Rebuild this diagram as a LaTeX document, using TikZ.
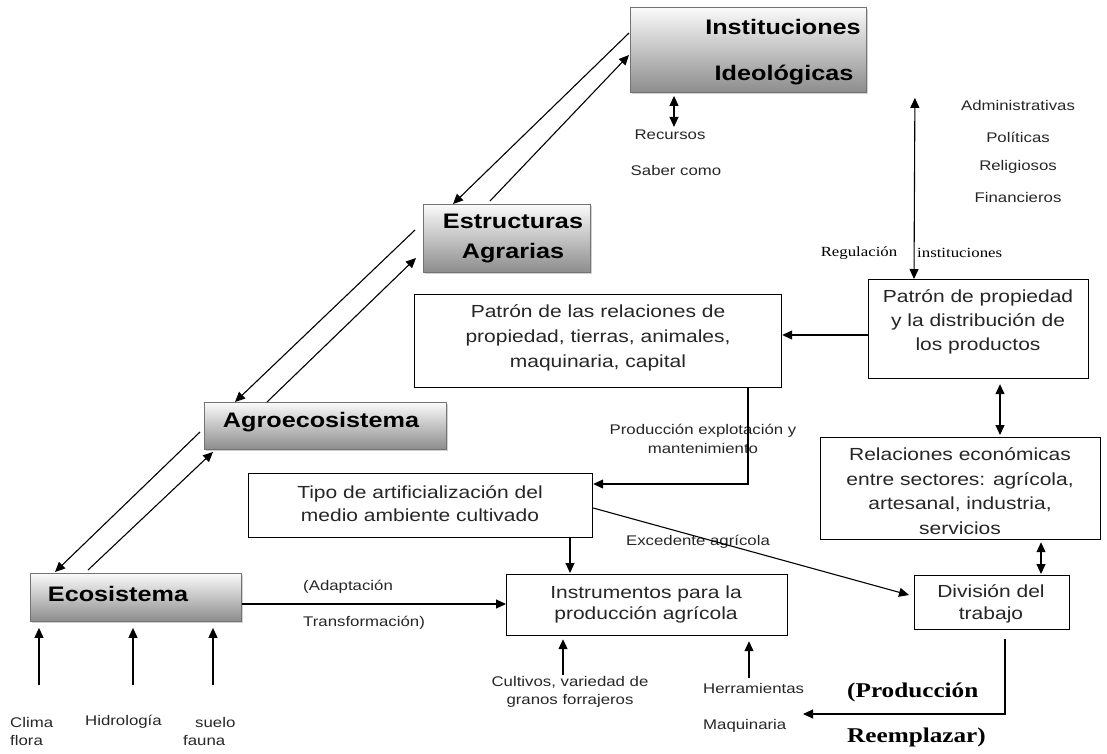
\documentclass[tikz,border=0pt]{standalone}
\usepackage{fontspec}
\setmainfont[FakeStretch=1.2]{Liberation Sans}
\newfontfamily\tnr[FakeStretch=1.2]{Liberation Serif}
\usetikzlibrary{shadows,calc,arrows.meta}
\begin{document}
\begin{tikzpicture}[x=1pt,y=-1pt,
  shadebox/.style={draw=black!55, line width=0.9pt, top color=black!2, bottom color=black!45, drop shadow={shadow xshift=2pt, shadow yshift=-2pt, opacity=0.3, fill=black!60}, rectangle, inner sep=0, anchor=north west},
  plainbox/.style={draw=black, line width=1.2pt, fill=white, rectangle, inner sep=0, anchor=north west},
  btext/.style={font=\fontsize{21}{30}\selectfont\bfseries, align=center, inner sep=0},
  boxtext/.style={align=center, text=black!85, inner sep=0},
  lbl/.style={font=\fontsize{14}{18}\selectfont, text=black!85, inner sep=0},
  slbl/.style={font=\tnr\fontsize{14}{16}\selectfont, text=black, inner sep=0},
  blbl/.style={font=\tnr\fontsize{21}{22}\selectfont\bfseries, text=black, inner sep=0, anchor=west},
  arr/.style={-{Triangle[length=10pt,width=9pt]}, line width=1.1pt},
  darr/.style={{Triangle[length=10pt,width=9pt]}-{Triangle[length=10pt,width=9pt]}, line width=1.1pt},
]
\useasboundingbox (0,0) rectangle (1107,753);

% shaded boxes
\node[shadebox, minimum width=236pt, minimum height=85pt] (inst) at (630,7) {};
\node[shadebox, minimum width=167pt, minimum height=68pt] (estr) at (423,204) {};
\node[shadebox, minimum width=242pt, minimum height=47pt] (agro) at (204,402) {};
\node[shadebox, minimum width=211pt, minimum height=48pt] (eco) at (30,573) {};

\node[btext] (instA) at (783,27) {Instituciones};
\node[btext] (instB) at (784,75) {Ideológicas};
\node[btext] (estrT) at (513,238) {Estructuras\\Agrarias};
\node[btext] (agroT) at (321,422) {Agroecosistema};
\node[btext] (ecoT) at (118,594) {Ecosistema};

% plain boxes
\node[plainbox, minimum width=367pt, minimum height=93pt] (rel) at (414,294) {};
\node[plainbox, minimum width=220pt, minimum height=99pt] (prop) at (868,279) {};
\node[plainbox, minimum width=280pt, minimum height=102pt] (econ) at (820,437) {};
\node[plainbox, minimum width=344pt, minimum height=64pt] (tipo) at (248,473) {};
\node[plainbox, minimum width=281pt, minimum height=61pt] (instr) at (506,574) {};
\node[plainbox, minimum width=155pt, minimum height=54pt] (div) at (914,575) {};

\node[boxtext, font=\fontsize{17.5}{25}\selectfont] (relT) at (598,338) {Patrón de las relaciones de\\propiedad, tierras, animales,\\maquinaria, capital};
\node[boxtext, font=\fontsize{17.5}{24}\selectfont] (propT) at (978,322) {Patrón de propiedad\\y la distribución de\\los productos};
\node[boxtext, font=\fontsize{17.5}{24.5}\selectfont] (econT) at (960,491) {Relaciones económicas\\entre sectores: agrícola,\\artesanal, industria,\\servicios};
\node[boxtext, font=\fontsize{17.5}{23}\selectfont] (tipoT) at (420,504) {Tipo de artificialización del\\medio ambiente cultivado};
\node[boxtext, font=\fontsize{17.5}{21}\selectfont] (instrT) at (646,604) {Instrumentos para la\\producción agrícola};
\node[boxtext, font=\fontsize{17.5}{22}\selectfont] (divT) at (991,604) {División del\\trabajo};

% labels
\node[lbl] (rec) at (670,135) {Recursos};
\node[lbl] (saber) at (676,170) {Saber como};
\node[lbl] (adm) at (1018,105) {Administrativas};
\node[lbl] (pol) at (1018,137) {Políticas};
\node[lbl] (relig) at (1018,167) {Religiosos};
\node[lbl] (fin) at (1018,197) {Financieros};
\node[slbl] (regu) at (859,253) {Regulación};
\node[slbl, anchor=west] (instit) at (917,253) {instituciones};
\node[lbl, align=center, font=\fontsize{14}{19}\selectfont] (prodexp) at (703,439) {Producción explotación y\\mantenimiento};
\node[lbl] (exced) at (698,542) {Excedente agrícola};
\node[lbl, anchor=west] (adap) at (303,587) {(Adaptación};
\node[lbl, anchor=west] (transf) at (303,623) {Transformación)};
\node[lbl, anchor=west] (clima) at (10,722) {Clima};
\node[lbl, anchor=west] (flora) at (10,740) {flora};
\node[lbl, anchor=west] (hidro) at (85,722) {Hidrología};
\node[lbl, anchor=west] (suelo) at (195,722) {suelo};
\node[lbl, anchor=west] (fauna) at (183,740) {fauna};
\node[lbl, align=center, font=\fontsize{14}{18}\selectfont] (cult) at (570,692) {Cultivos, variedad de\\granos forrajeros};
\node[lbl, anchor=west] (herr) at (703,688) {Herramientas};
\node[lbl, anchor=west] (maq) at (703,726) {Maquinaria};
\node[blbl] (prodA) at (847,692) {(Producción};
\node[blbl] (prodB) at (847,737) {Reemplazar)};

% connectors between shaded boxes
\draw[arr] ($(inst.north west)+(-1,26)$) -- ($(estr.north west)+(30,0)$);
\draw[arr] ($(estr.north west)+(67,-3)$) -- ($(inst.north west)+(-1,48)$);
\draw[arr] ($(estr.north west)+(-8,26)$) -- ($(agro.north west)+(31,0)$);
\draw[arr] ($(agro.north west)+(63,0)$) -- ($(estr.north west)+(-7,54)$);
\draw[arr] ($(agro.north west)+(-4,30)$) -- ($(eco.north west)+(25,-1)$);
\draw[arr] ($(eco.north west)+(58,-3)$) -- ($(agro.south west)+(9,2)$);

% other connectors
\draw[darr] ($(inst.south west)+(44,3)$) -- ($(rec.north)+(4,-3)$);
\draw[darr] ($(inst.south east)+(48,5)$) -- ($(prop.north west)+(46,0)$);
\draw[arr] ($(prop.north west)+(0,56)$) -- ($(rel.north east)+(0,41)$);
\draw[arr] ($(rel.south west)+(334,0)$) |- ($(tipo.north east)+(0,11)$);
\draw[darr] ($(prop.south west)+(132,5)$) -- ($(econ.north west)+(180,-2)$);
\draw[darr] ($(econ.south west)+(221,2)$) -- ($(div.north west)+(127,-1)$);
\draw[arr] ($(tipo.south west)+(322,0)$) -- ($(instr.north west)+(64,-1)$);
\draw[arr] ($(tipo.north east)+(0,35)$) -- ($(div.north west)+(-5,20)$);
\draw[arr] ($(eco.north east)+(0,31)$) -- ($(instr.north west)+(0,30)$);

\coordinate (e1) at (39,685);
\coordinate (e2) at (133,685);
\coordinate (e3) at (213,685);
\draw[arr] (e1) -- ($(eco.south west)+(9,6)$);
\draw[arr] (e2) -- ($(eco.south west)+(103,6)$);
\draw[arr] (e3) -- ($(eco.south west)+(183,6)$);

\coordinate (i1) at (563,675);
\coordinate (i2) at (749,678);
\draw[arr] (i1) -- ($(instr.south west)+(57,3)$);
\draw[arr] (i2) -- ($(instr.south west)+(243,5)$);

\coordinate (pend) at (803,714);
\draw[arr] ($(div.south west)+(91,9)$) |- (pend);
\end{tikzpicture}
\end{document}
